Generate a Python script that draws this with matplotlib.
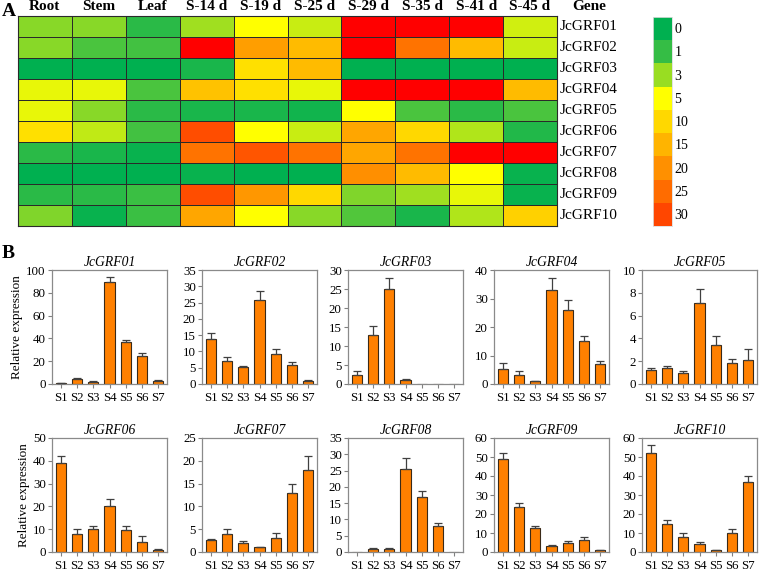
import matplotlib
matplotlib.use("Agg")
import matplotlib.pyplot as plt
import numpy as np
from matplotlib.colors import LinearSegmentedColormap, ListedColormap

plt.rcParams['font.family'] = 'serif'
plt.rcParams['font.serif'] = ['Liberation Serif', 'DejaVu Serif']

# ---------------- data ----------------
tissues = ["Root", "Stem", "Leaf", "S-14 d", "S-19 d", "S-25 d", "S-29 d", "S-35 d", "S-41 d", "S-45 d"]
genes = ["JcGRF01", "JcGRF02", "JcGRF03", "JcGRF04", "JcGRF05",
         "JcGRF06", "JcGRF07", "JcGRF08", "JcGRF09", "JcGRF10"]
heat_values = [
    [2.8, 2.8, 0.9, 3.2, 5.0, 4.0, 40, 40, 40, 4.2],
    [2.8, 1.5, 1.3, 40, 18, 14, 40, 24, 14, 4.0],
    [0.0, 0.0, 0.0, 0.6, 9.0, 14, 0.0, 0.0, 0.0, 0.0],
    [4.6, 4.6, 1.5, 13, 9.0, 4.6, 40, 40, 40, 14],
    [4.6, 2.8, 0.8, 0.6, 0.6, 0.4, 5.0, 1.5, 0.8, 1.5],
    [9.0, 3.8, 1.4, 29, 5.0, 4.0, 17, 10, 3.5, 0.7],
    [0.8, 0.5, 0.3, 24, 28, 24, 17, 24, 40, 40],
    [0.0, 0.0, 0.0, 0.3, 0.0, 0.0, 20, 14, 5.0, 0.2],
    [0.8, 0.8, 1.1, 29, 19, 10, 2.5, 3.2, 4.6, 0.2],
    [2.5, 0.3, 1.2, 17, 5.0, 2.7, 1.6, 0.6, 3.5, 11],
]
legend_labels = ["0", "1", "3", "5", "10", "15", "20", "25", "30"]
legend_values = [0, 1, 3, 5, 10, 15, 20, 25, 30]
legend_colors = ["#00b050", "#35bd45", "#99dd22", "#ffff00", "#ffd800",
                 "#ffb400", "#ff9000", "#ff6c00", "#ff4600"]

stages = ["S1", "S2", "S3", "S4", "S5", "S6", "S7"]
bar_means = [
    [0.9, 4.7, 1.7, 89.5, 37, 24.5, 2.3],
    [13.7, 7.0, 5.2, 25.8, 9.3, 5.8, 1.0],
    [2.3, 13.0, 25.0, 1.0, 0, 0, 0],
    [5.2, 3.2, 1.0, 33.0, 26.0, 15.0, 7.0],
    [1.2, 1.4, 1.0, 7.1, 3.4, 1.85, 2.1],
    [39.0, 8.0, 10.2, 20.2, 9.8, 4.5, 1.0],
    [2.6, 3.9, 2.0, 1.0, 3.1, 13.0, 17.9],
    [0, 1.0, 1.0, 25.6, 16.8, 8.0, 0],
    [49.0, 23.6, 12.8, 3.2, 4.7, 6.1, 1.0],
    [52.2, 14.8, 8.0, 4.2, 1.0, 10.2, 37.0],
]
bar_errs = [
    [0.4, 0.6, 0.5, 4.7, 2.0, 2.3, 0.8],
    [2.0, 1.4, 0.2, 2.8, 1.3, 1.1, 0.2],
    [1.0, 2.3, 3.0, 0.2, 0, 0, 0],
    [2.0, 1.3, 0.2, 4.2, 3.6, 1.9, 1.2],
    [0.2, 0.15, 0.1, 1.2, 0.8, 0.35, 1.0],
    [3.0, 2.2, 1.2, 3.0, 1.8, 2.5, 0.3],
    [0.2, 1.1, 0.4, 0.1, 1.1, 2.0, 3.2],
    [0, 0.2, 0.1, 3.2, 2.0, 1.0, 0],
    [3.0, 2.2, 1.0, 0.3, 1.0, 2.0, 0.3],
    [4.0, 2.0, 1.8, 1.0, 0.1, 2.0, 3.0],
]
y_max = [100, 35, 30, 40, 10, 50, 25, 35, 60, 60]
y_step = [20, 5, 5, 10, 2, 10, 5, 5, 10, 10]

# ---------------- figure ----------------
W, H = 760, 572
fig = plt.figure(figsize=(W / 100, H / 100), dpi=100)

def px_axes(x0, y0, w, h):
    return fig.add_axes([x0 / W, 1 - (y0 + h) / H, w / W, h / H])

# heatmap colormap (continuous through legend nodes, red beyond 30)
vmax = 40.0
nodes = [(v / vmax, c) for v, c in zip(legend_values, legend_colors)]
nodes += [(34 / vmax, "#ff0000"), (1.0, "#ff0000")]
cmap = LinearSegmentedColormap.from_list("grf", nodes)

axh = px_axes(18, 16, 539, 210)
data = np.array(heat_values)
axh.pcolormesh(np.arange(len(tissues) + 1), np.arange(len(genes) + 1), data,
               cmap=cmap, vmin=0, vmax=vmax, edgecolors="#2a2a2a", linewidth=0.7)
axh.set_xlim(0, len(tissues))
axh.set_ylim(len(genes), 0)
axh.set_xticks([])
axh.set_yticks([])
for s in axh.spines.values():
    s.set_color("#2a2a2a")
    s.set_linewidth(0.8)
for i, t in enumerate(tissues):
    axh.text(i + 0.5, -0.15, t, ha="center", va="bottom", fontsize=11,
             fontweight="bold")
axh.text(len(tissues) + 0.6, -0.15, "Gene", ha="center", va="bottom", fontsize=11,
         fontweight="bold")
for j, g in enumerate(genes):
    axh.text(len(tissues) + 0.05, j + 0.5, g, ha="left", va="center", fontsize=11)

# legend colour bar
axl = px_axes(653, 17, 19, 209)
axl.pcolormesh(np.array([0, 1]), np.arange(len(legend_colors) + 1),
               np.arange(len(legend_colors)).reshape(-1, 1),
               cmap=ListedColormap(legend_colors), vmin=-0.5, vmax=len(legend_colors) - 0.5)
axl.set_xlim(0, 1)
axl.set_ylim(len(legend_colors), 0)
axl.set_xticks([])
axl.set_yticks([])
for s in axl.spines.values():
    s.set_color("#dddddd")
    s.set_linewidth(0.6)
for k, lab in enumerate(legend_labels):
    axl.text(1.12, k + 0.55, lab, ha="left", va="center", fontsize=10)

fig.text(2 / W, 1 - 12 / H, "A", fontsize=14, fontweight="bold", ha="left", va="center")
fig.text(2 / W, 1 - 254 / H, "B", fontsize=14, fontweight="bold", ha="left", va="center")

# bar panels
lefts = [52, 202, 348, 494, 642]
tops = [270, 438]
pw, ph = 115, 114
x = np.arange(len(stages))
for gi in range(10):
    r, c = divmod(gi, 5)
    ax = px_axes(lefts[c], tops[r], pw, ph)
    means = np.array(bar_means[gi])
    errs = np.array(bar_errs[gi])
    ax.bar(x, means, width=0.62, color="#ff8000", edgecolor="#3a2a18", linewidth=0.8,
           zorder=2)
    show = errs > 0
    ax.errorbar(x[show], means[show], yerr=[np.zeros(show.sum()), errs[show]],
                fmt="none", ecolor="#404040", elinewidth=0.9, capsize=3.2,
                capthick=0.9, zorder=3)
    ax.set_xlim(-0.55, len(stages) - 0.45)
    ax.set_ylim(0, y_max[gi])
    ax.set_yticks(np.arange(0, y_max[gi] + 0.001, y_step[gi]))
    ax.set_xticks(x)
    ax.set_xticklabels(stages)
    ax.tick_params(direction="out", length=3, width=0.8, color="#808080",
                   labelsize=9.3, pad=1.5)
    ax.tick_params(axis="x", pad=3)
    for s in ax.spines.values():
        s.set_color("#8a8a8a")
        s.set_linewidth(0.9)
    ax.set_title(genes[gi], fontsize=9.8, fontstyle="italic", pad=3)
    if c == 0:
        ax.set_ylabel("Relative expression", fontsize=9.5, labelpad=2)

fig.savefig("out.png", dpi=100)
